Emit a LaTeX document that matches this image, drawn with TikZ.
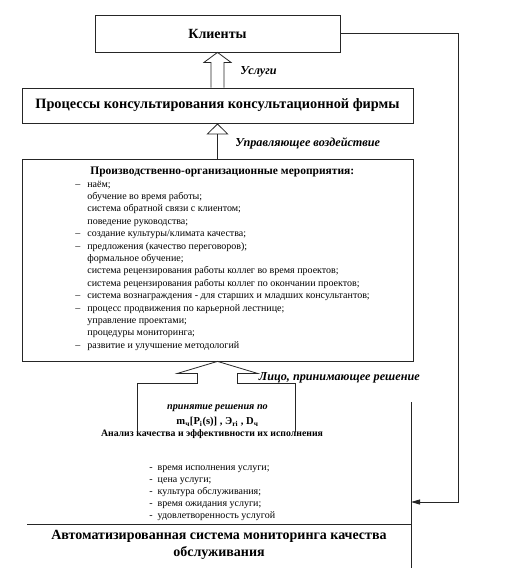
\documentclass[tikz,border=0pt]{standalone}
\usepackage{fontspec}
\setmainfont{Liberation Serif}
\usepackage{tikz}
\usetikzlibrary{arrows.meta, positioning, calc}

\newcommand{\mk}{\llap{--\hspace{7pt}}}

\begin{document}
\begin{tikzpicture}[x=1pt, y=-1pt, line width=0.8pt,
    box/.style={draw=black!85, inner sep=0pt},
    lbl/.style={anchor=west, inner sep=0pt, font=\bfseries\itshape\fontsize{12.2}{14}\selectfont},
    item/.style={anchor=base west, inner sep=0pt, font=\fontsize{10}{11}\selectfont}]
  \useasboundingbox (0,0) rectangle (514,570);

  \node[box, minimum width=245pt, minimum height=37pt, font=\bfseries\fontsize{14}{16}\selectfont] (clients) at (217.5,33.5) {Клиенты};
  \node[box, minimum width=391pt, minimum height=35pt, font=\bfseries\fontsize{14.3}{16}\selectfont] (process) at (217.5,105.5) {Процессы консультирования консультационной фирмы};
  \node[box, minimum width=391pt, minimum height=202pt] (measures) at (217.5,260) {};

  \draw[black!85] ($(process.north)+(-6.5,0)$) -- ($(clients.south)+(-6.5,10)$) -- ($(clients.south)+(-13.5,10)$) -- (clients.south)
    -- ($(clients.south)+(13.5,10)$) -- ($(clients.south)+(6.5,10)$) -- ($(process.north)+(6.5,0)$);
  \node[lbl] (services) at (240,72) {Услуги};

  \draw[black!85, -{Triangle[open, length=11pt, width=22pt]}] (measures.north) -- (process.south);
  \node[lbl] (control) at (235,143) {Управляющее воздействие};

  \node[anchor=base west, inner sep=0pt, font=\bfseries\fontsize{11.5}{13}\selectfont] (meastitle) at (90,174) {Производственно-организационные мероприятия:};
  \foreach \t [count=\i] in {\mk наём;, обучение во время работы;, система обратной связи с клиентом;, поведение руководства;,
      \mk создание культуры/климата качества;, \mk предложения (качество переговоров);, формальное обучение;,
      система рецензирования работы коллег во время проектов;, система рецензирования работы коллег по окончании проектов;,
      \mk система вознаграждения - для старших и младших консультантов;, \mk процесс продвижения по карьерной лестнице;,
      управление проектами;, процедуры мониторинга;, \mk развитие и улучшение методологий}
    \node[item] (m\i) at (87,174.6+12.4*\i) {\t};

  % fork below the measures box
  \draw[black!85] ($(measures.south)+(-80,71)$) |- ($(measures.south)+(-20,22)$) -- ($(measures.south)+(-20,12)$)
    -- ($(measures.south)+(-40,12)$) -- (measures.south) -- ($(measures.south)+(40,12)$) -- ($(measures.south)+(20,12)$)
    -- ($(measures.south)+(20,22)$) -| ($(measures.south)+(78,71)$);
  \node[lbl] (person) at ($(measures.south)+(41,16)$) {Лицо, принимающее решение};

  \node[align=center, inner sep=0pt, font=\bfseries\fontsize{10.6}{15}\selectfont] (decide) at (217.5,416)
    {{\itshape\fontsize{10.2}{15}\selectfont принятие решения по}\\ m\textsubscript{ч}[P\textsubscript{i}(s)] , Э\textsubscript{ri} , D\textsubscript{ч}};

  \node[inner sep=0pt, font=\bfseries\fontsize{9.8}{11}\selectfont] (analysis) at (212,434) {Анализ качества и эффективности их исполнения};
  \foreach \t [count=\i] in {время исполнения услуги;, цена услуги;, культура обслуживания;, время ожидания услуги;, удовлетворенность услугой}
    \node[item] (a\i) at (149,458+12*\i) {-\hspace{5pt}\t};

  % monitoring system
  \coordinate (mtop) at (411,402);
  \coordinate (mbot) at (411,568);
  \coordinate (mleft) at (27,524);
  \draw[black!85] (mleft) -- (mleft -| mtop);
  \draw[black!85] (mtop) -- (mbot);
  \node[align=center, inner sep=0pt, font=\bfseries\fontsize{14}{17}\selectfont] (monitor) at (219,545)
    {Автоматизированная система мониторинга качества\\ обслуживания};

  \draw[black!85, -{Triangle[length=9pt, width=5pt]}] (clients.east) -| ($(mtop)+(47,100)$) -- ($(mtop)+(0,100)$);
\end{tikzpicture}
\end{document}
